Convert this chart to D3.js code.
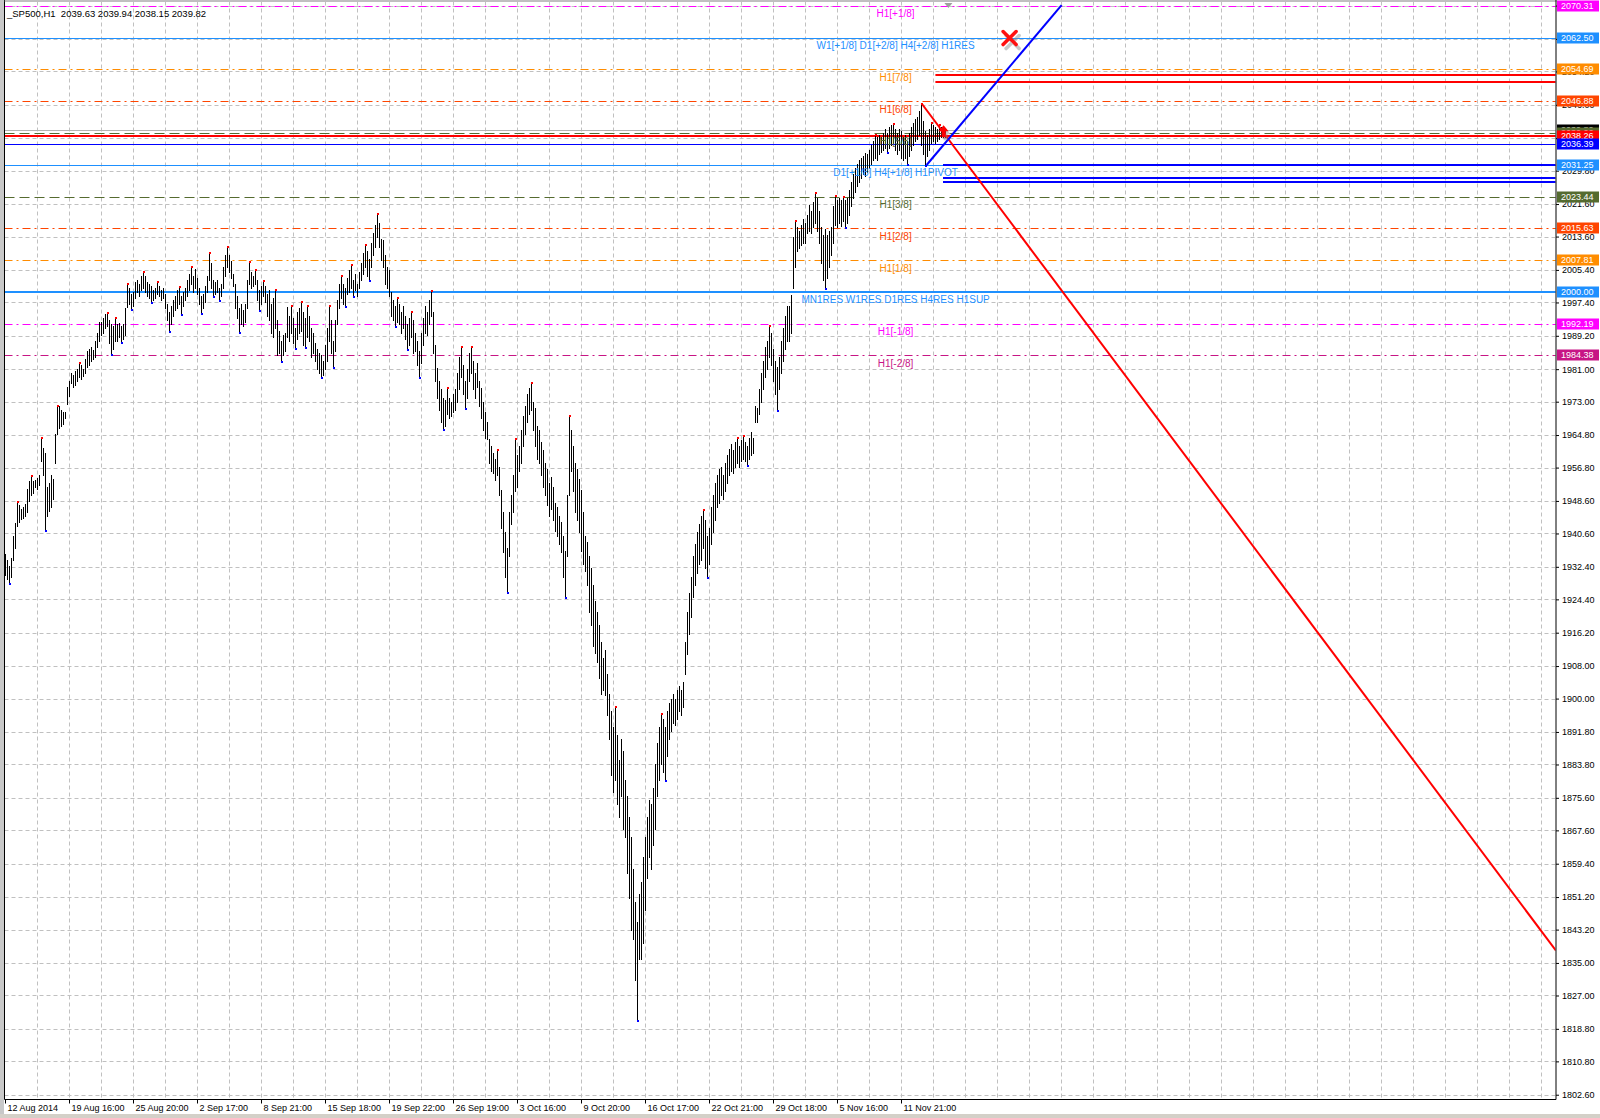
<!DOCTYPE html>
<html><head><meta charset="utf-8">
<script src="https://cdn.jsdelivr.net/npm/d3@7"></script>
<style>html,body{margin:0;padding:0;background:#fff;overflow:hidden}svg{display:block;font-family:"Liberation Sans",Arial,sans-serif}</style>
</head><body><svg id="c" width="1600" height="1118"></svg>
<script>
// ---------------- DATA ----------------
const headerText = "_SP500,H1  2039.63 2039.94 2038.15 2039.82";
// hourly bars [high, low]
const barsAug = [[1935.5,1930.5],[1934.0,1929.5],[1932.5,1928.4],[1934.5,1930.0],[1940.0,1934.0],[1943.2,1937.0],[1948.4,1942.5],[1947.5,1943.5],[1946.5,1944.2],[1947.0,1944.5],
[1947.8,1945.0],[1951.5,1946.0],[1953.5,1948.5],[1954.8,1950.0],[1953.5,1950.5],[1953.8,1952.1],[1954.2,1951.5],[1955.0,1952.5],[1964.1,1958.5],[1961.5,1955.0],
[1960.4,1941.4],[1952.0,1945.0],[1953.0,1946.2],[1955.0,1947.0],[1954.0,1949.0],[1965.0,1958.0],[1972.0,1965.0],[1972.0,1966.5],[1971.0,1967.0],[1970.5,1967.5],
[1970.5,1968.9],[1976.5,1972.5],[1978.0,1974.5],[1980.0,1977.5],[1979.5,1976.5],[1980.5,1977.0],[1981.0,1978.0],[1982.6,1979.0],[1982.0,1978.5],[1981.0,1979.3],
[1983.5,1980.0],[1985.5,1981.5],[1986.0,1982.0],[1986.5,1983.0],[1985.8,1983.5],[1988.0,1984.0],[1990.0,1986.5],[1992.7,1988.0],[1992.5,1989.5],[1993.5,1990.0],
[1994.5,1991.0],[1994.8,1991.5],[1993.0,1987.5],[1992.0,1984.7],[1991.5,1986.0],[1993.5,1988.0],[1992.0,1988.0],[1992.4,1989.0],[1991.5,1987.7],[1992.0,1988.5],
[1996.0,1989.5],[2001.9,1996.3],[2001.0,1997.0],[1999.5,1995.8],[2000.0,1996.5],[2002.5,1998.5],[2003.0,2000.0],[2002.0,1999.0],[2004.0,2000.5],[2005.0,2001.0],
[2004.0,2000.0],[2002.5,1999.0],[2002.0,1998.5],[2001.5,1997.6],[2000.5,1998.0],[2001.0,1998.5],[2002.5,1999.5],[2001.5,1999.0],[2000.5,1998.0],[2001.0,1998.5],
[1999.5,1996.0],[1997.0,1993.0],[1995.0,1990.5],[1996.5,1992.0],[1998.0,1994.0],[1999.0,1995.5],[2000.5,1996.0],[2001.3,1997.0],[1999.0,1994.6],[2000.0,1996.5],
[2001.0,1998.0],[2003.0,1999.0],[2004.5,2000.5],[2006.2,2002.0],[2004.0,2000.0]];
const barsSep = [[2005.6,2001.0],[2003.5,1999.5],[2001.0,1997.0],[1999.0,1994.9],[1999.5,1996.0],
[2001.5,1997.5],[2004.0,2000.0],[2009.5,2003.0],[2007.0,2001.0],[2003.0,1999.0],[2002.5,1999.5],[2003.0,2000.0],[2001.0,1998.0],[2002.0,1999.0],[2006.0,2001.0],
[2009.0,2004.0],[2011.1,2006.0],[2009.0,2005.0],[2007.5,2003.5],[2004.5,2001.5],[2002.0,1996.0],[1999.0,1993.5],[1996.0,1990.2],[1997.0,1992.0],[1995.5,1991.5],
[1997.0,1992.5],[2003.0,1996.0],[2007.3,2002.0],[2005.0,2000.9],[2004.0,2001.5],[2005.5,2002.0],[2003.0,1998.0],[2000.5,1995.5],[2001.5,1997.0],[2002.7,1999.0],
[2001.5,1997.5],[1999.5,1994.0],[2000.5,1993.0],[1997.0,1990.0],[1998.5,1989.0],[2000.5,1991.0],[1993.0,1984.5],[1990.5,1985.0],[1988.0,1983.0],[1989.5,1984.5],
[1990.0,1985.5],[1996.2,1989.0],[1994.0,1988.0],[1996.5,1990.0],[1993.5,1987.5],[1991.0,1986.1],[1995.0,1988.5],[1996.0,1990.0],[1997.5,1990.5],[1995.0,1987.0],
[1993.5,1986.5],[1996.5,1989.0],[1994.0,1988.0],[1991.0,1984.0],[1990.0,1985.0],[1987.5,1983.0],[1986.0,1981.0],[1985.0,1980.0],[1984.5,1979.0],[1983.0,1979.5],
[1987.0,1981.0],[1991.0,1983.0],[1996.5,1988.0],[1993.0,1985.0],[1988.0,1981.5],[1993.0,1985.5],[1998.0,1992.0],[2002.0,1996.0],[2004.0,1998.5],[2002.0,1997.0],
[2001.0,1996.5],[2003.5,1999.5],[2005.5,2000.0],[2006.5,2001.0],[2003.0,1999.0],[2004.5,2000.5],[2002.0,1999.0],[2005.0,2001.0],[2007.0,2003.0],[2009.5,2004.5],
[2011.6,2006.0],[2010.0,2004.0],[2008.0,2002.8],[2012.0,2006.0],[2014.5,2009.0],[2016.5,2011.0],[2019.1,2013.5],[2017.0,2011.0],[2013.0,2007.8],[2012.8,2006.0],
[2009.0,2002.0],[2006.0,2001.0],[2005.5,1999.0],[2000.0,1994.0],[1998.0,1993.0],[1996.5,1991.5],[1998.5,1992.5],[1997.0,1992.0],[1995.0,1990.0],[1996.5,1991.0],
[1994.0,1988.5],[1992.0,1986.0],[1993.5,1987.0],[1995.0,1989.0],[1993.0,1985.0],[1990.0,1985.5],[1988.0,1982.0],[1985.5,1979.0],[1990.0,1982.5],[1993.5,1987.0],
[1996.5,1990.0],[1995.0,1989.5],[1998.0,1992.0],[2000.2,1994.0],[1995.0,1985.0],[1987.0,1978.0],[1981.4,1974.0],[1978.0,1971.0],[1976.0,1968.0],[1974.0,1966.4],
[1973.5,1967.0],[1976.4,1970.0],[1974.0,1969.0],[1973.0,1969.5],[1975.0,1970.5],[1976.0,1971.0],[1980.0,1973.0],[1984.0,1976.0],[1986.5,1979.0],[1982.0,1975.0],
[1978.0,1971.4],[1981.0,1974.0],[1985.0,1978.0],[1986.5,1980.0],[1983.0,1976.0],[1980.0,1974.0],[1982.5,1976.5],[1978.0,1972.0],[1976.4,1969.0],[1973.0,1966.0],
[1970.5,1964.0],[1968.0,1963.9]];
const barsOct = [[1963.9,1958.0],[1962.0,1956.0],[1960.5,1955.5],[1959.0,1953.8],[1961.0,1955.0],[1957.0,1950.0],[1951.3,1942.0],[1946.0,1936.0],
[1941.0,1930.0],[1937.0,1926.2],[1946.0,1935.0],[1950.0,1943.0],[1955.0,1946.0],[1963.9,1951.0],[1960.0,1952.0],[1962.0,1956.0],[1966.0,1958.0],[1969.5,1962.0],
[1972.0,1965.0],[1975.0,1968.0],[1976.4,1970.0],[1977.7,1971.0],[1973.0,1966.0],[1971.4,1962.0],[1967.0,1959.0],[1966.0,1958.0],[1963.0,1955.0],[1961.0,1952.0],
[1958.0,1950.0],[1956.4,1947.5],[1953.0,1945.0],[1954.5,1946.5],[1952.0,1944.0],[1948.0,1941.3],[1947.0,1940.0],[1945.0,1938.0],[1943.5,1936.0],[1940.0,1930.0],
[1936.3,1925.0],[1950.0,1935.0],[1969.4,1950.0],[1966.0,1956.0],[1962.0,1951.0],[1958.0,1946.0],[1956.4,1944.0],[1954.0,1941.0],[1951.3,1936.3],[1946.0,1933.0],
[1940.0,1931.3],[1938.5,1928.0],[1935.0,1921.2],[1932.0,1918.0],[1928.0,1913.0],[1924.0,1911.2],[1921.2,1909.0],[1918.0,1905.0],[1914.0,1901.2],[1910.0,1902.0],
[1912.0,1901.0],[1906.0,1896.0],[1901.2,1890.0],[1897.0,1881.1],[1893.0,1877.0],[1898.0,1880.0],[1891.1,1874.0],[1885.0,1871.0],[1890.0,1876.0],[1887.0,1868.0],
[1880.0,1866.0],[1876.0,1857.0],[1871.0,1851.0],[1866.0,1843.0],[1858.0,1840.9],[1850.0,1830.9],[1845.0,1820.9],[1852.0,1836.0],[1855.0,1835.9],[1861.0,1840.0],
[1866.0,1848.0],[1871.0,1856.0],[1875.0,1861.0],[1874.0,1858.0],[1878.0,1864.0],[1884.0,1868.0],[1889.0,1876.0],[1893.0,1880.0],[1896.1,1884.0],[1895.0,1882.0],
[1893.0,1880.0],[1897.0,1886.0],[1899.0,1890.0],[1900.0,1892.0],[1901.2,1894.0],[1900.0,1893.5],[1902.0,1895.0],[1903.0,1897.0],[1902.0,1896.0],[1904.0,1898.0],
[1914.0,1906.0],[1921.2,1911.0],[1926.0,1916.0],[1930.0,1920.0],[1935.0,1925.0],[1938.0,1928.0],[1941.0,1931.0],[1943.0,1933.0],[1945.0,1934.0],[1946.3,1937.0],
[1944.0,1932.0],[1940.0,1930.0],[1942.0,1933.0],[1947.0,1938.0],[1950.0,1941.0],[1953.0,1944.0],[1955.0,1947.0],[1956.4,1948.0],[1957.0,1950.0],[1955.0,1949.0],
[1958.0,1951.0],[1960.0,1953.0],[1961.4,1955.0],[1962.5,1956.0],[1961.0,1955.5],[1963.0,1957.0],[1964.0,1958.0],[1962.0,1957.0],[1963.5,1958.5],[1964.5,1959.0],
[1963.0,1958.5],[1962.0,1957.5],[1964.0,1959.0],[1965.5,1960.0],[1964.0,1960.5],[1972.0,1968.0],[1971.4,1968.0],[1976.0,1970.0],[1980.0,1973.0],[1983.0,1976.0],
[1986.5,1979.0],[1988.0,1981.0],[1991.5,1984.0],[1990.0,1982.0],[1986.0,1978.0],[1983.0,1975.0],[1981.5,1971.0],[1984.0,1976.0],[1988.0,1980.0],[1991.0,1983.0],
[1994.0,1986.0],[1996.5,1988.0],[1996.5,1988.0],[1999.2,1990.0],[2013.6,2000.9],[2017.5,2006.0],[2016.0,2010.0],[2015.0,2010.9],[2016.5,2011.5],[2018.0,2012.0],
[2017.0,2012.0],[2019.0,2014.4],[2021.4,2015.0]];
const barsNov = [[2020.0,2014.4],[2022.0,2016.0],[2024.4,2017.0],[2023.0,2015.0],[2020.0,2012.0],[2016.0,2007.0],[2014.0,2003.0],
[2015.5,2001.0],[2014.0,2003.5],[2015.0,2006.0],[2016.0,2009.0],[2021.0,2012.0],[2023.6,2016.5],[2022.5,2016.0],[2023.0,2017.0],[2022.5,2016.3],[2023.3,2017.5],
[2022.5,2016.0],[2023.0,2017.0],[2025.0,2019.0],[2027.0,2021.0],[2029.0,2023.0],[2030.5,2024.5],[2031.5,2026.0],[2032.5,2027.0],[2033.0,2028.0],[2033.5,2029.0],
[2034.1,2028.5],[2034.0,2029.5],[2035.0,2030.5],[2036.0,2031.5],[2037.0,2032.5],[2038.6,2033.0],[2038.0,2032.5],[2038.6,2034.0],[2038.0,2034.5],[2039.0,2035.0],
[2040.0,2035.5],[2039.0,2034.5],[2040.5,2035.5],[2041.0,2036.0],[2041.3,2036.5],[2040.0,2035.0],[2039.0,2034.0],[2040.0,2035.0],[2039.5,2033.0],[2038.0,2032.5],
[2038.5,2033.0],[2037.0,2031.5],[2039.0,2033.5],[2040.5,2035.0],[2041.5,2036.0],[2042.5,2037.0],[2043.0,2037.5],[2044.5,2038.5],[2046.2,2036.0],[2042.0,2034.0],
[2039.5,2031.2],[2038.5,2033.5],[2040.0,2035.0],[2041.5,2036.5],[2041.0,2037.0],[2040.5,2036.5],[2040.0,2037.0],[2041.0,2037.5],[2040.5,2038.0],[2040.0,2038.0],
[2039.94,2038.15]];

const priceTicks = [1802.60,1810.80,1818.80,1827.00,1835.00,1843.20,1851.20,1859.40,1867.60,1875.60,1883.80,1891.80,1900.00,1908.00,1916.20,1924.40,1932.40,1940.60,1948.60,1956.80,1964.80,1973.00,1981.00,1989.20,1997.40,2005.40,2013.60,2021.60,2029.80,2037.80,2046.00,2054.20,2062.20,2070.40];
const timeTickBars = [0,32,64,96,128,160,192,224,256,288,320,352,384,416,448];
const timeTickLabels = ["12 Aug 2014","19 Aug 16:00","25 Aug 20:00","2 Sep 17:00","8 Sep 21:00","15 Sep 18:00","19 Sep 22:00","26 Sep 19:00","3 Oct 16:00","9 Oct 20:00","16 Oct 17:00","22 Oct 21:00","29 Oct 18:00","5 Nov 16:00","11 Nov 21:00"];

// Murrey-math levels
const levelKeys   = ["p1","r8","l7","l6","l5","l4","l3","l2","l1","l0","m1","m2"];
const levelPrices = [2070.31,2062.50,2054.69,2046.88,2039.06,2031.25,2023.44,2015.63,2007.81,2000.00,1992.19,1984.38];
const levelTexts  = ["H1[+1/8]","W1[+1/8] D1[+2/8] H4[+2/8] H1RES","H1[7/8]","H1[6/8]","H1[5/8]","D1[+1/8] H4[+1/8] H1PIVOT","H1[3/8]","H1[2/8]","H1[1/8]","MN1RES W1RES D1RES H4RES H1SUP","H1[-1/8]","H1[-2/8]"];
// other horizontal lines
const bidPrice = 2039.82;
const redLinePrice = 2038.26;
const blueLinePrice = 2036.39;
const redStopPrices = [2053.33, 2051.68];
const blueStopPrices = [2031.25, 2028.05, 2027.0];
const stopStartBars = [465.2, 469.0];
// trend lines [bar, price]
const redTrend  = [[458.5, 2046.2], [775.5, 1838.0]];
const blueTrend = [[460.8, 2031.2], [528.3, 2070.5]];
// arrow objects [bar, price]
const stopMark = [502.3, 2062.4];
const buyMark  = [469.3, 2039.5];
const shiftBar = 471.7;
const labelBar = 445.3;

// ---------------- STYLES ----------------
const C = {magenta:"#FF00FF", dblue:"#1E90FF", orange:"#FF8C00", ored:"#FF4500", olive:"#556B2F", mvr:"#C71585"};
const levelStyle = {
  p1:{c:C.magenta,d:"8,4,2,4",w:1}, r8:{c:C.dblue,d:null,w:1}, l7:{c:C.orange,d:"8,4,2,4",w:1},
  l6:{c:C.ored,d:"8,4,2,4",w:1}, l5:{c:C.olive,d:"10,5",w:1}, l4:{c:C.dblue,d:null,w:1},
  l3:{c:C.olive,d:"10,5",w:1}, l2:{c:C.ored,d:"8,4,2,4",w:1}, l1:{c:C.orange,d:"8,4,2,4",w:1},
  l0:{c:C.dblue,d:null,w:2}, m1:{c:C.magenta,d:"8,4,2,4",w:1}, m2:{c:C.mvr,d:"8,4,2,4",w:1}
};

// ---------------- DRAW ----------------
const bars = [...barsAug, ...barsSep, ...barsOct, ...barsNov];
const svg = d3.select("#c");
const L = 4.5, R = 1556, T = 1.5, B = 1099.5;
const x = d3.scaleLinear().domain([0, 775]).range([5, 1555]);
const y = d3.scaleLinear().domain([1801.72, 2071.03]).range([1098.3, 3]);
const cr = v => Math.round(v) + 0.5;

svg.append("rect").attr("width",1600).attr("height",1118).attr("fill","#fff");
svg.append("rect").attr("x",0).attr("y",0).attr("width",4).attr("height",1118).attr("fill","#C8C8C8");
svg.append("rect").attr("x",0).attr("y",1114).attr("width",1600).attr("height",4).attr("fill","#D4D0C8");

svg.append("defs").append("clipPath").attr("id","pc").append("rect")
  .attr("x",L+0.5).attr("y",T+0.5).attr("width",R-L-1).attr("height",B-T-1);
const g = svg.append("g").attr("clip-path","url(#pc)");

// grid
const gridC = "#C0C0C0";
g.selectAll(".vg").data(d3.range(16, 776, 16)).join("line")
  .attr("x1",d=>cr(x(d))).attr("x2",d=>cr(x(d))).attr("y1",T).attr("y2",B)
  .attr("stroke",gridC).attr("stroke-dasharray","4,3");
g.selectAll(".hg").data(priceTicks).join("line")
  .attr("x1",L).attr("x2",R).attr("y1",d=>cr(y(d))).attr("y2",d=>cr(y(d)))
  .attr("stroke",gridC).attr("stroke-dasharray","4,3");

// level lines
levelKeys.forEach((k,i)=>{
  const s = levelStyle[k];
  const yy = s.w===2 ? Math.round(y(levelPrices[i])) : cr(y(levelPrices[i]));
  g.append("line").attr("x1",L).attr("x2",R).attr("y1",yy).attr("y2",yy)
    .attr("stroke",s.c).attr("stroke-width",s.w).attr("stroke-dasharray",s.d);
});
// bid, red, blue full-width lines
g.append("line").attr("x1",L).attr("x2",R).attr("y1",cr(y(bidPrice))).attr("y2",cr(y(bidPrice))).attr("stroke","#B4B4B4");
g.append("line").attr("x1",L).attr("x2",R).attr("y1",cr(y(blueLinePrice))).attr("y2",cr(y(blueLinePrice))).attr("stroke","#0000FF");
g.append("line").attr("x1",L).attr("x2",R).attr("y1",Math.round(y(redLinePrice))).attr("y2",Math.round(y(redLinePrice))).attr("stroke","#FF0000").attr("stroke-width",2);

// level texts
levelKeys.forEach((k,i)=>{
  svg.append("text").attr("x",x(labelBar)).attr("y",y(levelPrices[i])+8)
    .attr("text-anchor","middle").attr("dominant-baseline","central")
    .attr("font-size","10px").attr("fill",levelStyle[k].c).text(levelTexts[i]);
});

// bars
g.selectAll(".bar").data(bars).join("line")
  .attr("x1",(d,i)=>cr(x(i))).attr("x2",(d,i)=>cr(x(i)))
  .attr("y1",d=>Math.round(y(d[0]))).attr("y2",d=>Math.round(y(d[1]))+1)
  .attr("stroke","#000").attr("stroke-width",1);

// fractal markers
const ups=[], dns=[];
for (let i=2;i<bars.length-2;i++){
  const h=bars[i][0], l=bars[i][1];
  if (h>bars[i-1][0]&&h>bars[i-2][0]&&h>=bars[i+1][0]&&h>=bars[i+2][0]) ups.push(i);
  if (l<bars[i-1][1]&&l<bars[i-2][1]&&l<=bars[i+1][1]&&l<=bars[i+2][1]) dns.push(i);
}
g.selectAll(".fu").data(ups).join("rect").attr("x",i=>Math.round(x(i))).attr("y",i=>Math.round(y(bars[i][0]))-1)
  .attr("width",2).attr("height",2).attr("fill","#FF0000");
g.selectAll(".fd").data(dns).join("rect").attr("x",i=>Math.round(x(i))).attr("y",i=>Math.round(y(bars[i][1])))
  .attr("width",2).attr("height",2).attr("fill","#0000FF");

// stop lines (thick)
redStopPrices.forEach(p=>g.append("line").attr("x1",x(stopStartBars[0])).attr("x2",R).attr("y1",Math.round(y(p))).attr("y2",Math.round(y(p))).attr("stroke","#FF0000").attr("stroke-width",2));
blueStopPrices.forEach(p=>g.append("line").attr("x1",x(stopStartBars[1])).attr("x2",R).attr("y1",Math.round(y(p))).attr("y2",Math.round(y(p))).attr("stroke","#0000FF").attr("stroke-width",2));

// trend lines
const tl = d3.line().x(d=>x(d[0])).y(d=>y(d[1]));
g.append("path").attr("d",tl(redTrend)).attr("stroke","#FF0000").attr("stroke-width",2).attr("fill","none");
g.append("path").attr("d",tl(blueTrend)).attr("stroke","#0000FF").attr("stroke-width",2).attr("fill","none");

// stop (X) mark with shadow
function xMark(cx,cy,col,op){
  const s=6.5;
  const m=g.append("g").attr("opacity",op);
  m.append("line").attr("x1",cx-s).attr("y1",cy-s).attr("x2",cx+s).attr("y2",cy+s).attr("stroke",col).attr("stroke-width",3.5).attr("stroke-linecap","round");
  m.append("line").attr("x1",cx-s).attr("y1",cy+s).attr("x2",cx+s).attr("y2",cy-s).attr("stroke",col).attr("stroke-width",3.5).attr("stroke-linecap","round");
}
const smx = x(stopMark[0]), smy = y(stopMark[1]);
xMark(smx+3,smy+4,"#888",0.45);
xMark(smx,smy,"#FF1010",1);
// buy arrow with shadow
function upArrow(cx,cy,col,op){
  const pts=[[0,-6],[5,0],[2,0],[2,6],[-2,6],[-2,0],[-5,0]].map(p=>[cx+p[0],cy+p[1]]);
  g.append("polygon").attr("points",pts.map(p=>p.join(",")).join(" ")).attr("fill",col).attr("opacity",op);
}
const bmx = x(buyMark[0]), bmy = y(buyMark[1]);
upArrow(bmx+2,bmy+3,"#888",0.45);
upArrow(bmx,bmy,"#FF0000",1);
// shift marker
const sx = x(shiftBar);
svg.append("polygon").attr("points",`${sx-4},3 ${sx+4},3 ${sx},8`).attr("fill","#A0A0A0");

// frame
svg.append("line").attr("x1",L).attr("x2",L).attr("y1",0).attr("y2",B).attr("stroke","#000");
svg.append("line").attr("x1",L).attr("x2",R+0.5).attr("y1",T-0.5).attr("y2",T-0.5).attr("stroke","#808080");
svg.append("line").attr("x1",R).attr("x2",R).attr("y1",0).attr("y2",B).attr("stroke","#000");
svg.append("line").attr("x1",L).attr("x2",R).attr("y1",B).attr("y2",B).attr("stroke","#000");

// axes
const ya = svg.append("g").attr("transform",`translate(${R},0)`)
  .call(d3.axisRight(y).tickValues(priceTicks).tickSize(3).tickSizeOuter(0).tickFormat(d3.format(".2f")));
ya.select(".domain").remove();
ya.selectAll("text").attr("font-size","9px").attr("font-family","Liberation Sans, Arial, sans-serif").attr("fill","#000");
ya.selectAll("line").attr("stroke","#000");

const xa = svg.append("g").attr("transform",`translate(0,${B})`)
  .call(d3.axisBottom(x).tickValues(timeTickBars).tickSize(4).tickSizeOuter(0).tickFormat((d,i)=>timeTickLabels[i]));
xa.select(".domain").remove();
xa.selectAll("text").attr("font-size","9px").attr("font-family","Liberation Sans, Arial, sans-serif")
  .attr("text-anchor","start").attr("x",2).attr("y",5).attr("fill","#000");
xa.selectAll("line").attr("stroke","#000");

// right price boxes (drawn top-down so lower ones overlap upper ones)
const boxes = levelKeys.map((k,i)=>({p:levelPrices[i], c:levelStyle[k].c}));
boxes.push({p:bidPrice,c:"#000000"},{p:redLinePrice,c:"#FF0000"},{p:blueLinePrice,c:"#0000FF"});
boxes.sort((a,b)=>b.p-a.p);
boxes.forEach(b=>{
  const yy = y(b.p);
  svg.append("rect").attr("x",R+1).attr("y",Math.round(yy)-5.5).attr("width",42).attr("height",11).attr("fill",b.c);
  svg.append("text").attr("x",R+5).attr("y",yy).attr("dominant-baseline","central")
    .attr("font-size","9px").attr("fill","#fff").text(b.p.toFixed(2));
});

// header
svg.append("text").attr("x",7).attr("y",13).attr("dominant-baseline","central")
  .attr("font-size","9.5px").attr("fill","#000").style("white-space","pre").text(headerText);
</script></body></html>
